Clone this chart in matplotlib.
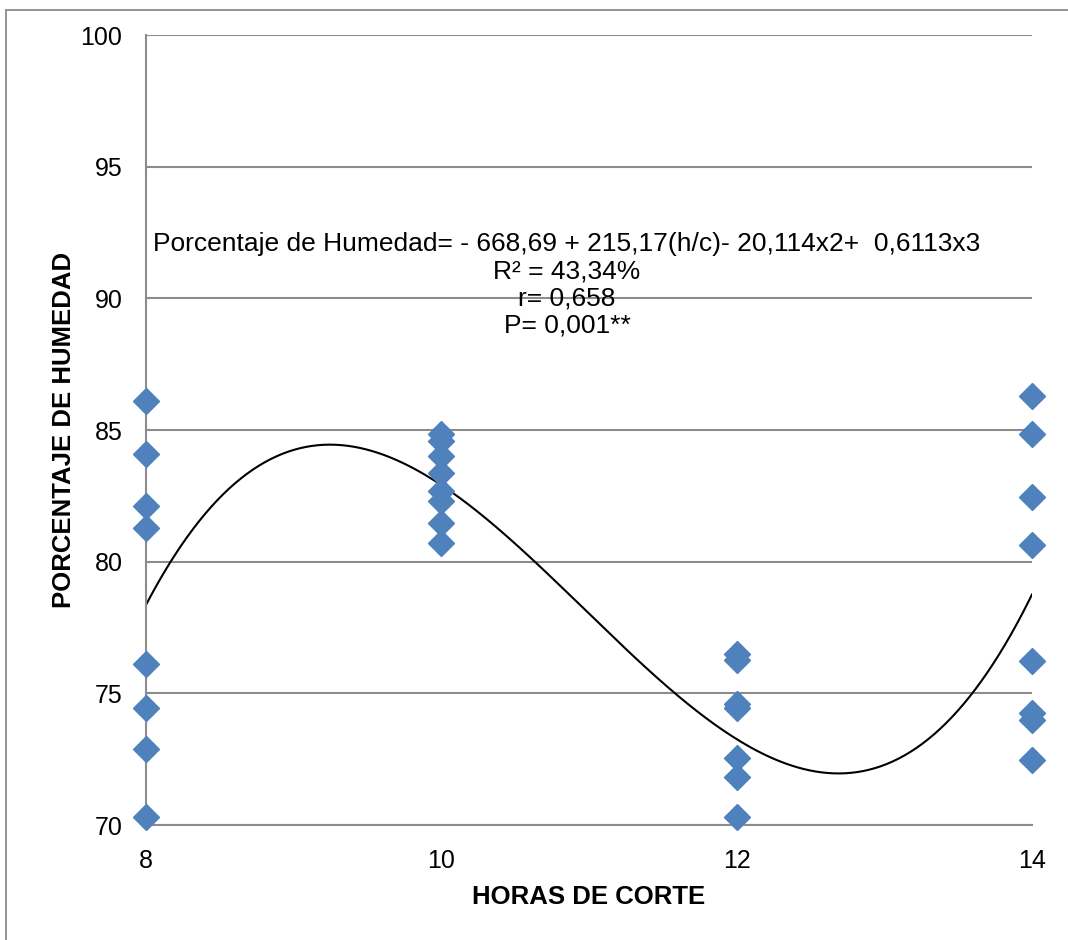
import matplotlib.pyplot as plt
import matplotlib.patches as mpatches
import numpy as np

plt.rcParams['font.family'] = ['Liberation Sans', 'DejaVu Sans']

# humedad observada por hora de corte
horas_8 = [86.1, 84.07, 82.13, 81.28, 76.12, 74.44, 72.88, 70.3]
horas_10 = [84.83, 84.57, 84.03, 83.35, 82.7, 82.3, 81.45, 80.7]
horas_12 = [76.5, 76.27, 74.6, 74.45, 72.54, 71.84, 70.32]
horas_14 = [86.29, 84.83, 82.46, 80.65, 76.21, 74.25, 73.99, 72.47]
horas = [8, 10, 12, 14]

# coeficientes del ajuste cubico
coef = [-668.69, 215.17, -20.114, 0.6113]

fig = plt.figure(figsize=(10.68, 9.40), dpi=100)
ax = fig.add_axes([146/1068, 115/940, 886/1068, 790/940])

# marco del area del grafico
fig.patches.append(mpatches.Rectangle((6/1068, -0.1), 1.2, (935-5)/940 + 0.1,
                                      transform=fig.transFigure, fill=False,
                                      edgecolor='#8c8c8c', linewidth=1.3))

for h, vals in zip(horas, [horas_8, horas_10, horas_12, horas_14]):
    ax.plot([h]*len(vals), vals, linestyle='none', marker='D', markersize=13,
            color='#4F81BD', markeredgecolor='#4F81BD', zorder=3, clip_on=False)

xs = np.linspace(8, 14, 300)
ys = coef[0] + coef[1]*xs + coef[2]*xs**2 + coef[3]*xs**3
ax.plot(xs, ys, color='black', linewidth=1.5, zorder=2)

ax.set_xlim(8, 14)
ax.set_ylim(70, 100)
ax.set_xticks(horas)
ax.set_yticks([70, 75, 80, 85, 90, 95, 100])
ax.grid(axis='y', color='#8c8c8c', linewidth=1.5)
ax.set_axisbelow(True)
for s in ['top', 'right']:
    ax.spines[s].set_visible(False)
for s in ['left', 'bottom']:
    ax.spines[s].set_color('#8c8c8c')
    ax.spines[s].set_linewidth(1.5)
ax.tick_params(length=0, labelsize=18, pad=17)
ax.tick_params(axis='y', pad=17)

ax.set_xlabel('HORAS DE CORTE', fontsize=18.5, fontweight='bold', labelpad=9)
ax.set_ylabel('PORCENTAJE DE HUMEDAD', fontsize=18.5, fontweight='bold', labelpad=3)

lineas = ['Porcentaje de Humedad= - 668,69 + 215,17(h/c)- 20,114x2+  0,6113x3',
          'R² = 43,34%', 'r= 0,658', 'P= 0,001**']
for k, t in enumerate(lineas):
    fig.text(567/1068, 1 - (244 + 27.3*k)/940, t, fontsize=19,
             ha='center', va='center')

fig.savefig('out.png', dpi=100)
